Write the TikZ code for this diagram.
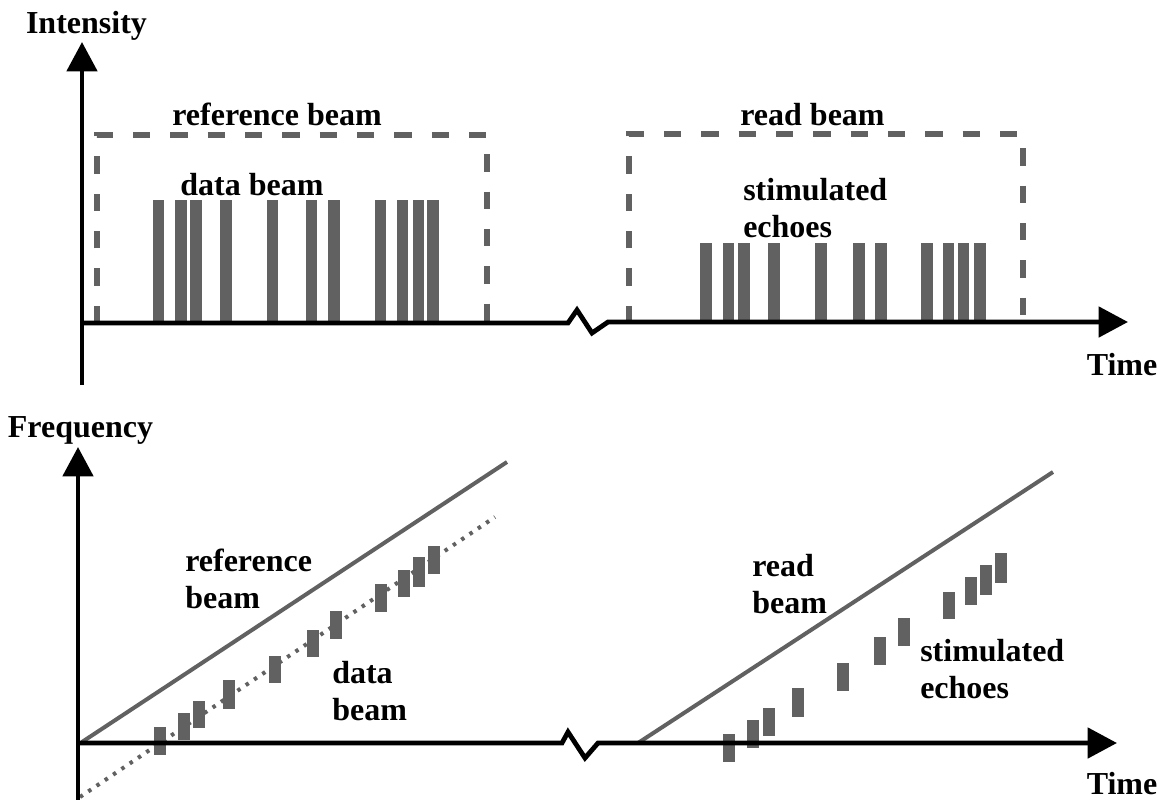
\documentclass[tikz,border=0pt]{standalone}
\usepackage{fontspec}
\setmainfont{Liberation Serif}
\usetikzlibrary{arrows.meta}
\definecolor{halftone}{gray}{0.38}
\tikzset{
  axis/.style={line width=3.6pt, line join=miter, -{Triangle[length=22pt,width=22.5pt]}},
  beamline/.style={line width=3pt, draw=halftone},
  databeam/.style={line width=3pt, draw=halftone, dash pattern=on 2.6pt off 4.9pt},
  pulsebox/.style={line width=3.8pt, draw=halftone, dash pattern=on 13pt off 15pt},
  bar/.style={fill=halftone, draw=none},
  lbl/.style={font=\bfseries\fontsize{24}{27.75}\selectfont, inner sep=0pt, align=left},
}
\begin{document}
\begin{tikzpicture}[x=0.75pt,y=-0.75pt]
\useasboundingbox (0,0) rectangle (1161,800);
% ---------- top panel ----------
\draw[pulsebox] (97,323) -- (97,135) -- (487,135) -- (487,323);
\draw[pulsebox] (629,323) -- (629,134) -- (1023,134) -- (1023,323);
\foreach \x in {152.7,175,190,220,266.7,305.7,328.3,374.7,396.7,412.7,427.3}
  \fill[bar] (\x,200) rectangle ++(11.5,123);
\foreach \x in {700,722.7,738.3,768.3,815,853.3,875,921,942.7,957.7,974.3}
  \fill[bar] (\x,243) rectangle ++(11.5,80);
\coordinate (ty0) at (82,385);
\coordinate (ty1) at (82,42);
\coordinate (tx0) at (80,323);
\coordinate (tx1) at (1128,322);
\draw[axis] (ty0) -- (ty1);
\draw[axis] (tx0) -- (568,323) -- (577,310) -- (592,333) -- (608,322) -- (tx1);
\node[lbl, anchor=base] (intensity) at (86.5,33) {Intensity};
\node[lbl, anchor=base] (timeA) at (1122,375) {Time};
\node[lbl, anchor=base] (refA) at (277,125) {reference beam};
\node[lbl, anchor=base] (dataA) at (252,195) {data beam};
\node[lbl, anchor=base] (readA) at (812.5,125) {read beam};
\node[lbl, anchor=base west] (echoA) at (743,237) {stimulated\\echoes};
% ---------- bottom panel ----------
\coordinate (r0) at (82,742);
\coordinate (r1) at (507,462);
\coordinate (d0) at (80,797);
\coordinate (d1) at (495,517);
\coordinate (q0) at (638,743);
\coordinate (q1) at (1053,472);
\draw[beamline] (r0) -- (r1);
\draw[databeam] (d0) -- (d1);
\draw[beamline] (q0) -- (q1);
\foreach \x/\ya/\yb in {154.3/726.7/755, 178.3/713.3/740, 193.3/700.7/728.3, 223.3/680/709.3,
  269/655.7/682.7, 306.7/630/656.7, 330/611/639, 375/584.3/612.3, 398.3/570/597.3,
  412.7/557.3/586.7, 428.3/546/574.3}
  \fill[bar] (\x,\ya) rectangle (\x+12,\yb);
\foreach \x/\ya/\yb in {723.3/734/761.7, 747.3/720/747.7, 762.7/707.7/735.7, 792.3/687.7/716.7,
  837.3/663.3/690.7, 874/636.7/665, 897.7/618.3/645.7, 942.7/591.7/619.3, 965/576.7/605,
  980/565/595, 995/553.3/582.7}
  \fill[bar] (\x,\ya) rectangle (\x+12,\yb);
\coordinate (by0) at (78,800);
\coordinate (by1) at (78,447);
\coordinate (bx0) at (76,743);
\coordinate (bx1) at (1117,743);
\draw[axis] (by0) -- (by1);
\draw[axis] (bx0) -- (562,743) -- (568,732) -- (585,758) -- (598,743) -- (bx1);
\node[lbl, anchor=base] (frequency) at (80.5,437) {Frequency};
\node[lbl, anchor=base] (timeB) at (1122,794) {Time};
\node[lbl, anchor=base west] (refB) at (185,608) {reference\\beam};
\node[lbl, anchor=base west] (dataB) at (332,720) {data\\beam};
\node[lbl, anchor=base west] (readB) at (752,613) {read\\beam};
\node[lbl, anchor=base west] (echoB) at (920,698) {stimulated\\echoes};
\end{tikzpicture}
\end{document}
